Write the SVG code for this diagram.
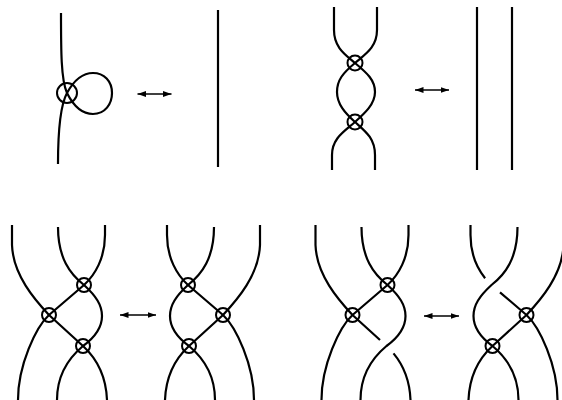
<svg xmlns="http://www.w3.org/2000/svg" width="562" height="400" viewBox="0 0 562 400">
  <defs>
    <style>
      .s{fill:none;stroke:#000;stroke-width:2.2;stroke-linejoin:round}
      .v{fill:none;stroke:#000;stroke-width:2}
      .ar{fill:none;stroke:#000;stroke-width:1.6;marker-start:url(#head);marker-end:url(#head)}
    </style>
    <marker id="head" markerUnits="userSpaceOnUse" markerWidth="9" markerHeight="7" refX="8.5" refY="3.5" orient="auto-start-reverse">
      <path d="M0,0.5 L8.5,3.5 L0,6.5 z" fill="#000"/>
    </marker>
  </defs>
  <rect width="562" height="400" fill="#fff"/>

  <!-- Move I -->
  <g id="move1-left">
    <path class="s" d="M61,13 C61,50 61,80 67,93 C73,105 81,114 93,114 C105,114 112,104 112,93 C112,81 104,73 93,73 C81,73 73,82 67,93 C61,104 58,125 58,164"/>
    <circle class="v" cx="67" cy="93" r="10"/>
  </g>
  <g id="move1-right">
    <path class="s" d="M218,10 L218,167"/>
  </g>

  <!-- Move II -->
  <g id="move2-left">
    <path class="s" d="M334,7 L334,30 C334,48 346,55 355,63 C367,73 375,80 375,92 C375,104 365,113 355,122 C345,131 332,138 332,155 L332,170"/>
    <path class="s" d="M377,7 L377,30 C377,48 364,55 355,63 C343,73 337,80 337,92 C337,104 345,113 355,122 C365,131 375,138 375,155 L375,170"/>
    <circle class="v" cx="355" cy="63" r="7.5"/>
    <circle class="v" cx="355" cy="122" r="7.5"/>
  </g>
  <g id="move2-right">
    <path class="s" d="M477,7 L477,170"/>
    <path class="s" d="M512,7 L512,170"/>
  </g>

  <!-- Move III (virtual) -->
  <g id="move3-left">
    <path class="s" d="M12,225 L12,245 C13,275 35,300 49,315 L83,346 C95,357 106,374 107,400"/>
    <path class="s" d="M18,400 C18,365 36,327 49,315 L84,285 C95,275 105,258 105,235 L105,225"/>
    <path class="s" d="M58,227 C58,258 70,274 84,285 C96,296 102,305 102,316 C102,328 94,338 83,346 C71,356 57,372 57,400"/>
    <circle class="v" cx="84" cy="285" r="7"/>
    <circle class="v" cx="49" cy="315" r="7"/>
    <circle class="v" cx="83" cy="346" r="7"/>
  </g>
  <g id="move3-right" transform="translate(272,0) scale(-1,1)">
    <path class="s" d="M12,225 L12,245 C13,275 35,300 49,315 L83,346 C95,357 106,374 107,400"/>
    <path class="s" d="M18,400 C18,365 36,327 49,315 L84,285 C95,275 105,258 105,235 L105,225"/>
    <path class="s" d="M58,227 C58,258 70,274 84,285 C96,296 102,305 102,316 C102,328 94,338 83,346 C71,356 57,372 57,400"/>
    <circle class="v" cx="84" cy="285" r="7"/>
    <circle class="v" cx="49" cy="315" r="7"/>
    <circle class="v" cx="83" cy="346" r="7"/>
  </g>

  <!-- Mixed move -->
  <g id="move4-left" transform="translate(303.5,0)">
    <path class="s" d="M12,225 L12,245 C13,275 35,300 49,315 L76.5,340"/>
    <path class="s" d="M90,353.4 C99,364.2 106.2,379.2 107,400"/>
    <path class="s" d="M18,400 C18,365 36,327 49,315 L84,285 C95,275 105,258 105,235 L105,225"/>
    <path class="s" d="M58,227 C58,258 70,274 84,285 C96,296 102,305 102,316 C102,328 94,338 83,346 C71,356 57,372 57,400"/>
    <circle class="v" cx="84" cy="285" r="7"/>
    <circle class="v" cx="49" cy="315" r="7"/>
  </g>
  <g id="move4-right" transform="translate(575.5,0) scale(-1,1)">
    <path class="s" d="M12,225 L12,245 C13,275 35,300 49,315 L83,346 C95,357 106,374 107,400"/>
    <path class="s" d="M18,400 C18,365 36,327 49,315 L75.5,292.3"/>
    <path class="s" d="M90.4,278.2 C98.6,268 105,253.4 105,235 L105,225"/>
    <path class="s" d="M58,227 C58,258 70,274 84,285 C96,296 102,305 102,316 C102,328 94,338 83,346 C71,356 57,372 57,400"/>
    <circle class="v" cx="49" cy="315" r="7"/>
    <circle class="v" cx="83" cy="346" r="7"/>
  </g>

  <g id="connectors">
    <line class="ar" x1="137.5" y1="94" x2="171.5" y2="94"/>
    <line class="ar" x1="415" y1="90" x2="449" y2="90"/>
    <line class="ar" x1="120" y1="315" x2="156" y2="315"/>
    <line class="ar" x1="424" y1="316" x2="459" y2="316"/>
  </g>
</svg>
